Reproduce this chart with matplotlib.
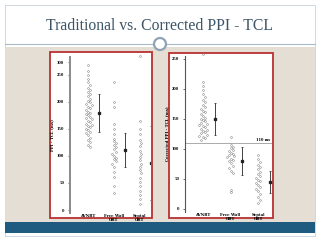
import numpy as np
import matplotlib
matplotlib.use("Agg")
import matplotlib.pyplot as plt
from matplotlib.patches import Rectangle, Circle

# values (ms)
groups = ["AVNRT", "Free Wall\nOBT", "Septal\nOBT"]

avnrt_trad = [268, 258, 250, 243, 236, 232, 226, 222, 218, 214, 210, 206, 202, 200,
              196, 194, 190, 188, 185, 182, 180, 178, 175, 172, 170, 168, 165, 162,
              160, 158, 156, 153, 150, 148, 145, 142, 138, 134, 130, 125, 120, 116]
free_wall_trad = [237, 200, 190, 160, 150, 140, 132, 128, 124, 120, 116, 112, 108,
                  104, 100, 97, 94, 90, 86, 80, 70, 62, 45, 31]
septal_trad = [285, 165, 150, 140, 130, 124, 118, 110, 104, 98, 92, 86, 80, 74,
               68, 60, 52, 44, 36, 28, 20, 12]
trad_mean = [180, 111, 87]
trad_sd = [35, 32, 68]

avnrt_corr = [258, 212, 205, 198, 192, 186, 182, 178, 174, 170, 167, 164, 161, 158,
              155, 152, 150, 148, 146, 144, 142, 140, 138, 136, 134, 132, 130, 128,
              126, 124, 122, 120, 118, 115]
free_wall_corr = [120, 107, 104, 101, 98, 96, 94, 92, 90, 88, 86, 84, 82, 80, 76,
                  72, 68, 64, 60, 32, 28]
septal_corr = [90, 84, 78, 74, 70, 66, 62, 58, 55, 52, 49, 46, 43, 40, 37, 34, 30,
               25, 20, 15, 10]
corr_mean = [150, 80, 45]
corr_sd = [27, 24, 19]
cutoff = 110

trad_ticks = [0, 50, 100, 150, 200, 250, 273]
trad_labels = ["0", "50", "100", "150", "200", "250", "300"]
corr_ticks = [0, 50, 100, 150, 200, 250]

BEIGE = "#e4ded4"
RED = "#b8312f"
BLUE = "#1f5a80"
LINE = "#a9b9c7"


def swarm(vals, center, binsize, step):
    # spread points sharing a bin sideways, no randomness
    vals = np.asarray(vals, dtype=float)
    xs = np.full(len(vals), float(center))
    bins = np.round(vals / binsize)
    for b in np.unique(bins):
        idx = np.where(bins == b)[0]
        for k, i in enumerate(idx):
            off = ((k + 1) // 2) * step * (1 if k % 2 else -1)
            xs[i] = center + off
    return xs


def draw_panel(ax, data, means, sds, ticks, labels, ylim, ylabel):
    for i, vals in enumerate(data):
        x = swarm(vals, i + 1, 9, 0.07)
        ax.plot(x, vals, "o", ms=1.3, mfc="none", mec="#777777", mew=0.35,
                clip_on=False)
        ax.errorbar(i + 1.42, means[i], yerr=sds[i], fmt="s", ms=1.6, color="#222222",
                    elinewidth=0.6, capsize=0.8, capthick=0.5)
    ax.set_xlim(0.3, 3.4)
    ax.set_ylim(*ylim)
    ax.set_yticks(ticks)
    ax.set_yticklabels(labels, fontsize=2.5, fontweight="bold", family="serif")
    ax.set_xticks([1, 2, 3])
    ax.set_xticklabels(groups, fontsize=2.8, fontweight="bold", family="serif",
                       linespacing=0.9)
    ax.tick_params(axis="y", length=1.2, width=0.4, pad=3)
    ax.tick_params(axis="x", length=0, pad=1)
    for s in ["top", "right", "bottom"]:
        ax.spines[s].set_visible(False)
    ax.set_ylabel(ylabel, fontsize=2.8, fontweight="bold", family="serif", labelpad=2)
    ax.set_facecolor("none")


fig = plt.figure(figsize=(3.2, 2.4), dpi=100)
bg = fig.add_axes([0, 0, 1, 1])
bg.set_xlim(0, 320)
bg.set_ylim(240, 0)
bg.axis("off")
bg.add_patch(Rectangle((5, 5), 310, 231, fc="white", ec="#c8d2dc", lw=0.6))
bg.add_patch(Rectangle((5, 47), 310, 175, fc=BEIGE, ec="none"))
bg.add_patch(Rectangle((5, 222), 310, 11, fc=BLUE, ec="none"))
bg.plot([5, 315], [44, 44], color=LINE, lw=0.8)
bg.add_patch(Circle((160, 44), 6, fc="white", ec="#8fa3b5", lw=1.6, zorder=3))
bg.text(160, 26, "Traditional vs. Corrected PPI - TCL", ha="center", va="center",
        fontsize=11.3, color="#3b5567", family="Liberation Serif")
bg.add_patch(Rectangle((50, 52), 102, 166, fc="white", ec=RED, lw=1.3))
bg.add_patch(Rectangle((169, 53), 104, 165, fc="white", ec=RED, lw=1.3))

ax1 = fig.add_axes([70 / 320, 27 / 240, 80 / 320, 156 / 240])
draw_panel(ax1, [avnrt_trad, free_wall_trad, septal_trad], trad_mean, trad_sd,
           trad_ticks, trad_labels, (-5.5, 283), "PPI - TCL (ms)")
ax1.spines["left"].set_color("#8a8a8a")
ax1.spines["left"].set_linewidth(1.4)

ax2 = fig.add_axes([185 / 320, 28 / 240, 87 / 320, 156 / 240])
draw_panel(ax2, [avnrt_corr, free_wall_corr, septal_corr], corr_mean, corr_sd,
           corr_ticks, [str(t) for t in corr_ticks], (-5, 255),
           "Corrected PPI - TCL (ms)")
ax2.set_xlim(0.35, 3.5)
ax2.spines["left"].set_color("#555555")
ax2.spines["left"].set_linewidth(0.8)
ax2.axhline(cutoff, color="#aaaaaa", lw=0.7)
ax2.text(3.45, cutoff + 1, "110 ms", fontsize=2.5, fontweight="bold", family="serif",
         ha="right", va="bottom")

fig.savefig("out.png", dpi=100)
